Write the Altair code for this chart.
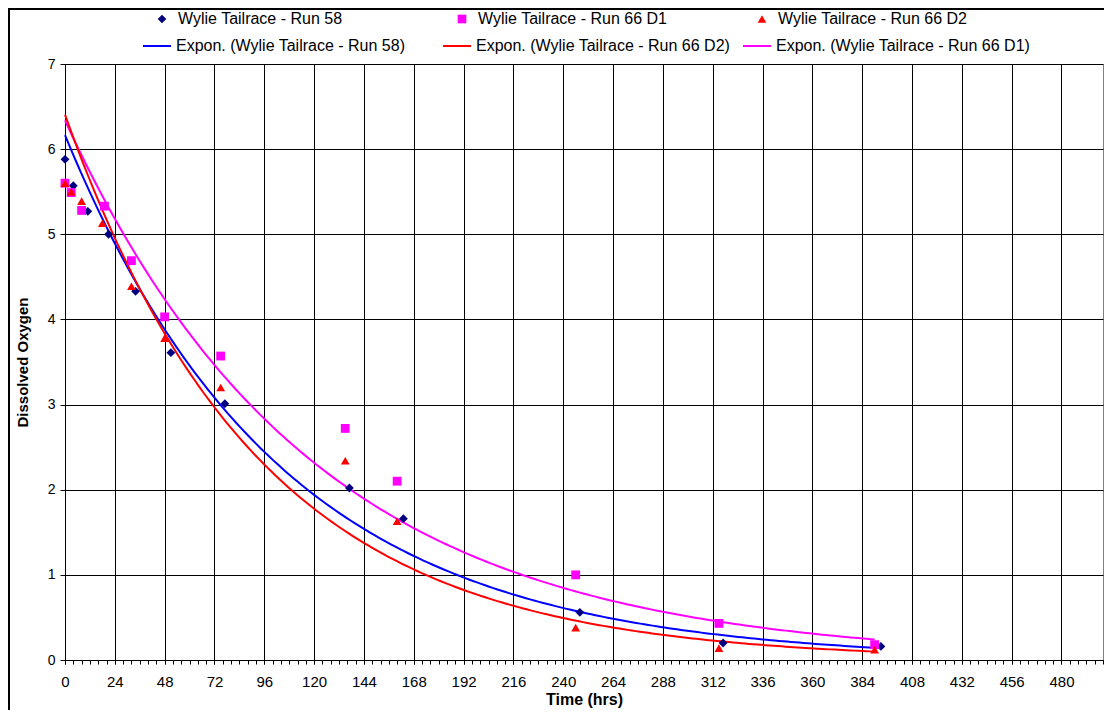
import altair as alt
import pandas as pd

FONT = "Liberation Sans"

series_names = ["Wylie Tailrace - Run 58", "Wylie Tailrace - Run 66 D1", "Wylie Tailrace - Run 66 D2"]
trend_names = ["Expon. (Wylie Tailrace - Run 58)", "Expon. (Wylie Tailrace - Run 66 D1)",
               "Expon. (Wylie Tailrace - Run 66 D2)"]
series_colors = ["#000080", "#FF00FF", "#FF0000"]
series_shapes = ["diamond", "square", "triangle-up"]
trend_order = ["Expon. (Wylie Tailrace - Run 58)", "Expon. (Wylie Tailrace - Run 66 D2)",
               "Expon. (Wylie Tailrace - Run 66 D1)"]
trend_colors = ["#0000FF", "#FF0000", "#FF00FF"]

run58_hrs = [0, 4, 11, 21, 34, 51, 77, 137, 163, 248, 317, 393]
run58_do = [5.88, 5.57, 5.27, 5.0, 4.33, 3.61, 3.01, 2.02, 1.66, 0.56, 0.20, 0.16]

run66d1_hrs = [0, 3, 8, 19, 32, 48, 75, 135, 160, 246, 315, 390]
run66d1_do = [5.6, 5.49, 5.28, 5.33, 4.69, 4.03, 3.57, 2.72, 2.10, 1.00, 0.43, 0.18]

run66d2_hrs = [0, 3, 8, 18, 32, 48, 75, 135, 160, 246, 315, 390]
run66d2_do = [5.6, 5.5, 5.39, 5.13, 4.39, 3.78, 3.20, 2.34, 1.63, 0.38, 0.14, 0.12]

x_major = list(range(0, 481, 24))
x_minor = list(range(0, 501, 4))
y_ticks = list(range(0, 8))

rows = []
for s, t, xs, ys in zip(series_names, trend_names,
                        [run58_hrs, run66d1_hrs, run66d2_hrs],
                        [run58_do, run66d1_do, run66d2_do]):
    for x, y in zip(xs, ys):
        rows.append({"series": s, "trend": t, "hrs": x, "oxy": y})
df = pd.DataFrame(rows)

x_scale = alt.Scale(domain=[0, 500], nice=False, zero=False)
y_scale = alt.Scale(domain=[0, 7], nice=False)

y_axis = alt.Axis(values=y_ticks, title="Dissolved Oxygen", grid=True, gridColor="black",
                  gridWidth=1, domainColor="black", domainWidth=1, tickColor="black", tickSize=5,
                  labelPadding=5, labelFont=FONT, labelFontSize=14, labelColor="black",
                  titleFont=FONT, titleFontSize=15, titleFontWeight="bold", titleColor="black",
                  titleX=-43, titleY=298, titleBaseline="middle", titleAngle=270)

x_axis_main = alt.Axis(values=x_major, title="Time (hrs)", grid=True, gridColor="black",
                       gridWidth=1, domainColor="black", domainWidth=1, tickColor="black",
                       tickSize=4, labelPadding=10, labelFont=FONT, labelFontSize=15,
                       labelColor="black", labelFlush=False, orient="bottom",
                       titleFont=FONT, titleFontSize=16, titleFontWeight="bold",
                       titleColor="black", titleY=44, titleBaseline="alphabetic")

x_axis_minor = alt.Axis(values=x_minor, title=None, grid=False, domain=False, labels=False,
                        tickColor="black", tickSize=4, orient="bottom")

frame = alt.Chart(alt.Data(values=[{"f": 1}])).mark_rect(
    fillOpacity=0, stroke="black", strokeWidth=2
).encode(
    x=alt.value(-56), x2=alt.value(1200), y=alt.value(-55), y2=alt.value(800)
)

trend = alt.Chart(df).transform_calculate(
    ly="log(datum.oxy)"
).transform_joinaggregate(
    xmin="min(hrs)", xmax="max(hrs)", groupby=["trend"]
).transform_regression(
    "hrs", "ly", groupby=["trend", "xmin", "xmax"], method="linear", params=True
).transform_calculate(
    tname="datum.keys[0]",
    x0="datum.keys[1]",
    x1="datum.keys[2]",
).transform_calculate(
    xs="sequence(datum.x0, datum.x1 + 0.001, (datum.x1 - datum.x0) / 200)"
).transform_flatten(
    ["xs"]
).transform_calculate(
    yfit="exp(datum.coef[0] + datum.coef[1] * datum.xs)"
).mark_line(strokeWidth=2).encode(
    x=alt.X("xs:Q", scale=x_scale, axis=x_axis_main),
    y=alt.Y("yfit:Q", scale=y_scale, axis=y_axis),
    stroke=alt.Stroke("tname:N", scale=alt.Scale(domain=trend_order, range=trend_colors),
                      legend=alt.Legend(title=None, orient="none", legendX=77, legendY=-33,
                                        direction="horizontal", columns=3, gridAlign="all",
                                        columnPadding=8, labelFont=FONT, labelFontSize=16,
                                        labelColor="black", labelOffset=4, labelLimit=500,
                                        symbolType="stroke", symbolSize=784,
                                        symbolStrokeWidth=2)),
    order=alt.Order("xs:Q"),
)

pt_legend = alt.Legend(title=None, orient="none", legendX=89, legendY=-53,
                       direction="horizontal", columns=3, gridAlign="all", columnPadding=86,
                       labelFont=FONT, labelFontSize=16, labelColor="black", labelOffset=8,
                       labelLimit=500, symbolSize=75, symbolStrokeWidth=0, symbolOpacity=1)

points = alt.Chart(df).mark_point(filled=True, size=78, opacity=1).encode(
    x=alt.X("hrs:Q", scale=x_scale, axis=x_axis_minor),
    y=alt.Y("oxy:Q", scale=y_scale, axis=y_axis),
    fill=alt.Fill("series:N", scale=alt.Scale(domain=series_names, range=series_colors),
                  legend=pt_legend),
    shape=alt.Shape("series:N", scale=alt.Scale(domain=series_names, range=series_shapes),
                    legend=pt_legend),
)

chart = alt.layer(frame, trend, points).resolve_axis(x="independent").properties(
    width=1038, height=596,
    padding={"left": 57, "top": 56, "right": 1, "bottom": 50},
    autosize=alt.AutoSizeParams(type="none"),
    background="white",
).configure_view(stroke="#808080", strokeWidth=1)

chart.save("out.html", embed_options={"renderer": "svg", "actions": False})
